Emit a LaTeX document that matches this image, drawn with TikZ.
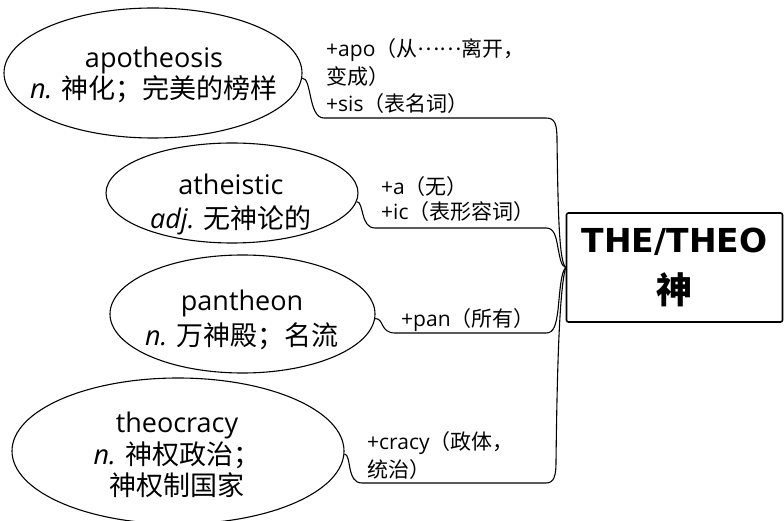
\documentclass[tikz,border=0pt]{standalone}
\usepackage{fontspec}
\usetikzlibrary{shapes.geometric}
\setmainfont{Open Sans}
\newfontfamily\cjk{Noto Sans CJK SC}
\newfontfamily\boxfont{DejaVu Sans}
\begin{document}
\begin{tikzpicture}[x=1pt,y=-1pt,
  ell/.style={draw, ellipse, line width=1.1pt, inner sep=0pt},
  big/.style={font=\fontsize{27}{29}\selectfont, align=center, inner sep=0pt},
  lab/.style={font=\fontsize{21}{27.5}\selectfont, align=left, inner sep=0pt, anchor=base west},
  conn/.style={line width=1.1pt},
  rootbox/.style={draw, line width=1.6pt, rounded corners=2pt, minimum width=216pt, minimum height=109pt, inner sep=0pt, align=center, font=\fontsize{33}{51}\selectfont}]
\useasboundingbox (0,0) rectangle (784,521);

% ellipses
\node[ell, minimum width=298pt, minimum height=130pt] (e1) at (153,73) {};
\node[ell, minimum width=252pt, minimum height=100pt] (e2) at (232,193) {};
\node[ell, minimum width=265pt, minimum height=118pt] (e3) at (242.5,314) {};
\node[ell, minimum width=332pt, minimum height=146pt] (e4) at (178,451) {};

% ellipse texts
\node[big] (t1) at (154,75) {apotheosis\\{\itshape n.} {\cjk 神化；完美的榜样}};
\node[big, font=\fontsize{27}{34}\selectfont] (t2) at (231,204) {atheistic\\{\itshape adj.} {\cjk 无神论的}};
\node[big, font=\fontsize{27}{35}\selectfont] (t3) at (242,320) {pantheon\\{\itshape n.} {\cjk 万神殿；名流}};
\node[big, font=\fontsize{27}{31.5}\selectfont] (t4) at (177,455) {theocracy\\{\itshape n.} {\cjk 神权政治；}\\{\cjk 神权制国家}};

% root box
\node[rootbox] (root) at (674.5,267.5) {{\boxfont\bfseries THE/THEO}\\{\fontsize{36}{51}\selectfont\cjk\bfseries 神}};

% labels (base anchor = baseline of last line)
\node[lab] (l1) at (326,112) {+apo{\cjk （从\raisebox{0.33em}{……}离开，}\\{\cjk 变成）}\\+sis{\cjk （表名词）}};
\node[lab, font=\fontsize{21}{25}\selectfont] (l2) at (381,220) {+a{\cjk （无）}\\+ic{\cjk （表形容词）}};
\node[lab] (l3) at (401,326) {+pan{\cjk （所有）}};
\node[lab] (l4) at (367,477) {+cracy{\cjk （政体，}\\{\cjk 统治）}};

% connectors
\draw[conn] (e1.-2) .. controls (312,77) and (308,118) .. (324,118) -- (546,118)
  .. controls (555,118) and (557,124) .. (557,140)
  .. controls (558,210) and (559,262) .. (root.west);
\draw[conn] (e2.-4) .. controls (364,201) and (360,228) .. (375,228) -- (546,228)
  .. controls (554,228) and (556,236) .. (558,248)
  .. controls (560,258) and (561,266) .. (root.west);
\draw[conn] (e3.-2) .. controls (384,318) and (380,333) .. (395,333) -- (546,333)
  .. controls (554,333) and (556,325) .. (558,310)
  .. controls (560,290) and (561,272) .. (root.west);
\draw[conn] (e4.-1) .. controls (352,455) and (346,483) .. (362,483) -- (546,483)
  .. controls (554,483) and (556,476) .. (556,462)
  .. controls (557,380) and (559,290) .. (root.west);
\end{tikzpicture}
\end{document}
